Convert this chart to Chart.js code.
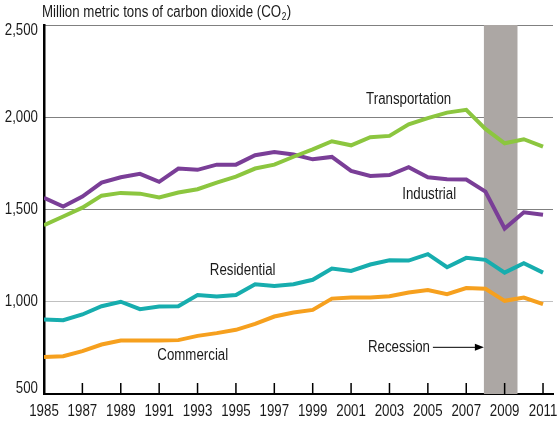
<!DOCTYPE html>
<html>
<head>
<meta charset="utf-8">
<script src="https://cdn.jsdelivr.net/npm/chart.js@4/dist/chart.umd.min.js"></script>
<style>
 body{margin:0;background:#fff;}
 #wrap{width:557px;height:423px;}
</style>
</head>
<body>
<div id="wrap"><canvas id="chart" width="557" height="423"></canvas></div>
<script>
// data
const years=[1985,1986,1987,1988,1989,1990,1991,1992,1993,1994,1995,1996,1997,1998,1999,2000,2001,2002,2003,2004,2005,2006,2007,2008,2009,2010,2011];
const transportation=[1415,1462,1510,1575,1590,1586,1565,1592,1610,1646,1678,1722,1743,1786,1826,1870,1848,1892,1899,1962,1995,2025,2040,1937,1859,1881,1841];
const industrial=[1564,1516,1570,1646,1675,1693,1650,1722,1715,1743,1743,1794,1812,1798,1772,1785,1709,1682,1687,1729,1675,1664,1662,1597,1397,1485,1471];
const residential=[904,900,931,976,1000,960,974,976,1037,1028,1036,1095,1086,1095,1119,1180,1167,1202,1225,1223,1258,1187,1238,1227,1158,1209,1158];
const commercial=[700,705,732,768,790,790,790,792,815,830,848,880,920,942,956,1017,1023,1023,1030,1050,1064,1041,1074,1070,1005,1023,987];
const yTicks=[500,1000,1500,2000,2500];
const xTicks=[1985,1987,1989,1991,1993,1995,1997,1999,2001,2003,2005,2007,2009,2011];
const recession=[2007.92,2009.67];
const seriesLabels=[
 {text:"Transportation",x:2004,y:2097},
 {text:"Industrial",x:2005.07,y:1580},
 {text:"Residential",x:1995.35,y:1167},
 {text:"Commercial",x:1992.75,y:707}
];
const recessionLabel={text:"Recession",x:2007.92,y:753};

// no narrow face installed, so squeeze Liberation Sans by hand
const FONT="'Liberation Sans',Arial,sans-serif";
const SX=0.83;
const INK="#1a1a1a";

function pts(vals){return years.map((y,i)=>({x:y,y:vals[i]}));}

function txt(ctx,s,x,y,align,size,base){
 ctx.save();
 ctx.font=(size||16)+"px "+FONT;
 ctx.textBaseline=base||"middle";
 ctx.textAlign="left";
 ctx.fillStyle=INK;
 let w=ctx.measureText(s).width*SX;
 let x0=align==="center"?x-w/2:align==="right"?x-w:x;
 ctx.translate(x0,y);
 ctx.scale(SX,1);
 ctx.fillText(s,0,0);
 ctx.restore();
 return w;
}

const overlay={
 id:"overlay",
 beforeDatasetsDraw(chart){
  let {ctx,chartArea:a,scales:{x}}=chart;
  ctx.save();
  ctx.fillStyle="#aca7a4";
  let x0=x.getPixelForValue(recession[0]), x1=x.getPixelForValue(recession[1]);
  ctx.fillRect(x0,a.top,x1-x0,a.bottom-a.top);
  ctx.restore();
 },
 afterDatasetsDraw(chart){
  let {ctx,chartArea:a,scales:{x,y}}=chart;
  ctx.save();
  // inside tick marks
  ctx.strokeStyle="#000";
  ctx.lineWidth=1.5;
  xTicks.forEach(v=>{
   let px=x.getPixelForValue(v);
   ctx.beginPath();ctx.moveTo(px,a.bottom-11);ctx.lineTo(px,a.bottom);ctx.stroke();
  });
  // series labels
  seriesLabels.forEach(l=>txt(ctx,l.text,x.getPixelForValue(l.x),y.getPixelForValue(l.y),"center"));
  // recession label + arrow
  let tip=x.getPixelForValue(recessionLabel.x), py=y.getPixelForValue(recessionLabel.y);
  txt(ctx,recessionLabel.text,tip-54,py,"right");
  ctx.strokeStyle="#000";ctx.fillStyle="#000";ctx.lineWidth=1;
  ctx.beginPath();ctx.moveTo(tip-51,py);ctx.lineTo(tip-5,py);ctx.stroke();
  ctx.beginPath();ctx.moveTo(tip,py);ctx.lineTo(tip-9,py-3.5);ctx.lineTo(tip-9,py+3.5);ctx.closePath();ctx.fill();
  ctx.restore();
 },
 afterDraw(chart){
  let {ctx,chartArea:a,scales:{x,y}}=chart;
  // tick labels
  xTicks.forEach(v=>txt(ctx,String(v),x.getPixelForValue(v),a.bottom+18,"center"));
  yTicks.forEach(v=>{
   let py=Math.min(Math.max(y.getPixelForValue(v),a.top+6),a.bottom-5);
   txt(ctx,v.toLocaleString("en-US"),a.left-6,py,"right");
  });
  // axis title with subscript
  let w=txt(ctx,"Million metric tons of carbon dioxide (CO",42,17,"left",16,"alphabetic");
  let w2=txt(ctx,"2",42+w+0.5,20,"left",10,"alphabetic");
  txt(ctx,")",42+w+w2+1,17,"left",16,"alphabetic");
 }
};

function line(label,vals,color){
 return {label,data:pts(vals),borderColor:color,backgroundColor:color,borderWidth:4,pointRadius:0,tension:0,fill:false};
}

new Chart(document.getElementById("chart"),{
 type:"line",
 data:{datasets:[
  line("Commercial",commercial,"#f6a01e"),
  line("Residential",residential,"#17adae"),
  line("Transportation",transportation,"#8cc63f"),
  line("Industrial",industrial,"#7a3e97")
 ]},
 options:{
  responsive:false,
  animation:false,
  layout:{padding:{top:25,right:4,left:0,bottom:0}},
  plugins:{legend:{display:false},tooltip:{enabled:false}},
  scales:{
   x:{
    type:"linear",min:1985,max:2011.52,
    afterBuildTicks:s=>{s.ticks=xTicks.map(v=>({value:v}));},
    afterFit:s=>{s.height=29;s.paddingLeft=0;s.paddingRight=0;},
    grid:{display:false,drawTicks:false},
    border:{display:true,color:"#000",width:2},
    ticks:{display:false}
   },
   y:{
    min:500,max:2500,
    afterBuildTicks:s=>{s.ticks=yTicks.map(v=>({value:v}));},
    afterFit:s=>{s.width=44;s.paddingTop=0;s.paddingBottom=0;},
    grid:{color:c=>c.tick&&c.tick.value===1000?"#808080":"#000",lineWidth:1,drawTicks:false},
    border:{display:true,color:"#000",width:2.5,dash:[1,1]},
    ticks:{display:false}
   }
  }
 },
 plugins:[overlay]
});
</script>
</body>
</html>
